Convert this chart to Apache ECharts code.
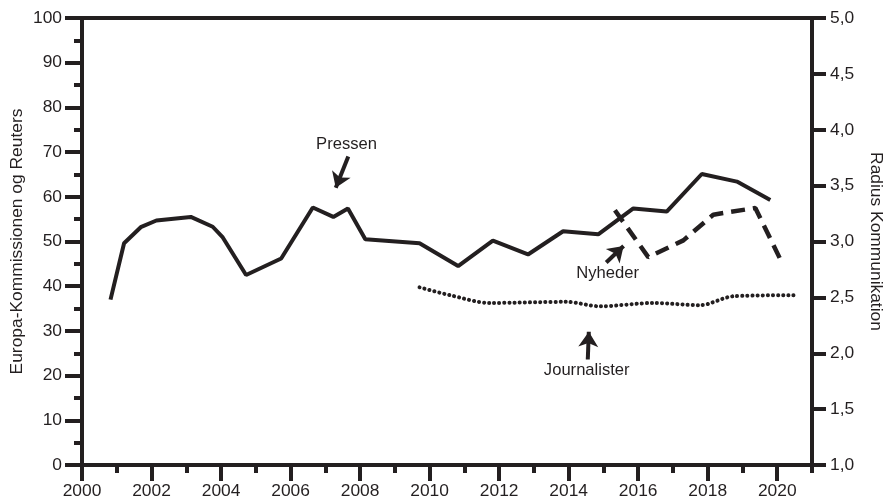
<!DOCTYPE html>
<html>
<head>
<meta charset="utf-8">
<script src="https://cdn.jsdelivr.net/npm/echarts@6/dist/echarts.min.js"></script>
<style>
html,body{margin:0;padding:0;background:#fff;}
#chart{width:884px;height:500px;}
</style>
</head>
<body>
<div id="chart"></div>
<script>
// ---- data ----
const pressenYears  = [2000.82, 2001.21, 2001.69, 2002.14, 2003.13, 2003.76, 2004.05, 2004.72, 2005.73, 2006.64, 2007.23, 2007.65, 2008.15, 2009.71, 2010.82, 2011.82, 2012.83, 2013.84, 2014.85, 2015.86, 2016.82, 2017.83, 2018.84, 2019.80];
const pressenValues = [37.0, 49.6, 53.2, 54.7, 55.5, 53.3, 50.9, 42.5, 46.2, 57.6, 55.5, 57.4, 50.5, 49.6, 44.5, 50.2, 47.1, 52.3, 51.6, 57.4, 56.7, 65.1, 63.4, 59.3];

const nyhederYears  = [2015.33, 2016.29, 2017.30, 2018.16, 2019.37, 2020.09];
const nyhederValues = [3.28, 2.86, 3.01, 3.24, 3.30, 2.84];

const journalisterYears  = [2009.71, 2010.58, 2011.73, 2013.93, 2014.90, 2016.43, 2017.78, 2018.74, 2020.57];
const journalisterValues = [2.59, 2.52, 2.45, 2.46, 2.42, 2.45, 2.43, 2.51, 2.52];

const evenYears = [2000, 2002, 2004, 2006, 2008, 2010, 2012, 2014, 2016, 2018, 2020];
const oddYears  = [2001, 2003, 2005, 2007, 2009, 2011, 2013, 2015, 2017, 2019, 2021];

const leftAxisName  = 'Europa-Kommissionen og Reuters';
const rightAxisName = 'Radius Kommunikation';

// annotations (left-axis data units)
const annotationLabels = ['Pressen', 'Nyheder', 'Journalister'];
const annotationTextPos = [[2007.61, 71.8], [2015.12, 42.8], [2014.52, 21.1]];
const annotationArrowFrom = [[2007.66, 69.0], [2015.08, 45.3], [2014.55, 23.6]];
const annotationArrowTo   = [[2007.30, 62.0], [2015.58, 49.0], [2014.58, 29.8]];

// ---- chart ----
const C = '#231f20';
const FS = 17.4;
const AFS = 16.6;
const FF = '"Liberation Sans", Arial, Helvetica, sans-serif';
const zip = (a, b) => a.map((v, i) => [v, b[i]]);

const chart = echarts.init(document.getElementById('chart'), null, {renderer: 'canvas'});

const option = {
  animation: false,
  backgroundColor: '#ffffff',
  textStyle: {fontFamily: FF, color: C},
  grid: {left: 82, right: 72, top: 18, bottom: 35, containLabel: false, outerBoundsMode: 'none'},
  xAxis: [
    {
      type: 'value', min: 2000, max: 2021, position: 'bottom',
      axisLine: {show: true, lineStyle: {color: C, width: 4}},
      axisTick: {show: true, customValues: evenYears, length: 16, lineStyle: {color: C, width: 4}},
      axisLabel: {customValues: evenYears, margin: 18, fontSize: FS, color: C, fontFamily: FF, formatter: v => String(v)},
      splitLine: {show: false}
    },
    {
      type: 'value', min: 2000, max: 2021, position: 'bottom',
      axisLine: {show: false},
      axisTick: {show: true, customValues: oddYears, length: 8, lineStyle: {color: C, width: 4}},
      axisLabel: {show: false},
      splitLine: {show: false}
    },
    {
      type: 'value', min: 2000, max: 2021, position: 'top',
      axisLine: {show: true, lineStyle: {color: C, width: 4}},
      axisTick: {show: false},
      axisLabel: {show: false},
      splitLine: {show: false}
    }
  ],
  yAxis: [
    {
      type: 'value', min: 0, max: 100, interval: 10, position: 'left',
      name: leftAxisName, nameLocation: 'middle', nameGap: 56, nameMoveOverlap: false,
      nameTextStyle: {fontSize: FS, color: C, fontFamily: FF},
      axisLine: {show: true, lineStyle: {color: C, width: 4}},
      axisTick: {show: true, length: 17, lineStyle: {color: C, width: 4}},
      minorTick: {show: true, splitNumber: 2, length: 8, lineStyle: {color: C, width: 4}},
      axisLabel: {margin: 20, fontSize: FS, color: C, fontFamily: FF},
      splitLine: {show: false}
    },
    {
      type: 'value', min: 1, max: 5, interval: 0.5, position: 'right',
      name: rightAxisName, nameLocation: 'middle', nameGap: 55.5, nameRotate: -90,
      nameTextStyle: {fontSize: FS, color: C, fontFamily: FF},
      axisLine: {show: true, lineStyle: {color: C, width: 4}},
      axisTick: {show: true, length: 14, lineStyle: {color: C, width: 4}},
      axisLabel: {margin: 18, fontSize: FS, color: C, fontFamily: FF, formatter: v => v.toFixed(1).replace('.', ',')},
      splitLine: {show: false}
    }
  ],
  series: [
    {
      name: 'Pressen', type: 'line', xAxisIndex: 0, yAxisIndex: 0,
      data: zip(pressenYears, pressenValues),
      showSymbol: false, symbol: 'none',
      lineStyle: {color: C, width: 4},
      markLine: {
        silent: true, symbol: ['none', 'arrow'], symbolSize: [15, 15],
        label: {show: false},
        lineStyle: {color: C, width: 4, type: 'solid'},
        data: annotationArrowFrom.map((p, i) => [{coord: p}, {coord: annotationArrowTo[i]}])
      },
      markPoint: {
        silent: true, symbol: 'circle', symbolSize: 0,
        label: {show: true, position: 'inside', fontSize: AFS, color: C, fontFamily: FF, formatter: p => p.name},
        data: annotationLabels.map((t, i) => ({name: t, coord: annotationTextPos[i]}))
      }
    },
    {
      name: 'Nyheder', type: 'line', xAxisIndex: 0, yAxisIndex: 1,
      data: zip(nyhederYears, nyhederValues),
      showSymbol: false, symbol: 'none',
      lineStyle: {color: C, width: 4.5, type: [14, 8]}
    },
    {
      name: 'Journalister', type: 'line', xAxisIndex: 0, yAxisIndex: 1,
      data: zip(journalisterYears, journalisterValues),
      showSymbol: false, symbol: 'none', smooth: 0.3,
      lineStyle: {color: C, width: 4, type: [0.1, 5], cap: 'round'}
    }
  ]
};
chart.setOption(option);
</script>
</body>
</html>
